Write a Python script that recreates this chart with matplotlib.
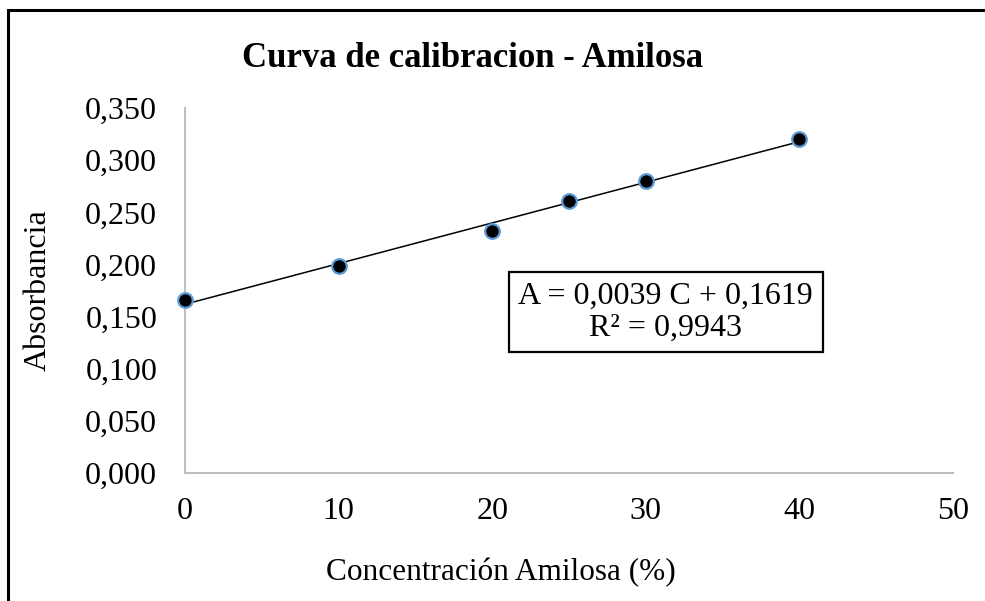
import matplotlib
matplotlib.use('Agg')
import matplotlib.pyplot as plt
from matplotlib.patches import Rectangle
from matplotlib.ticker import FuncFormatter

concentracion = [0, 10, 20, 25, 30, 40]
absorbancia = [0.166, 0.199, 0.232, 0.261, 0.280, 0.320]
pendiente = 0.0039
intercepto = 0.1619
r2 = 0.9943

plt.rcParams['font.family'] = ['Liberation Serif', 'DejaVu Serif']

fig = plt.figure(figsize=(9.85, 6.01), dpi=100)
ax = fig.add_axes([0.1878, 0.213, 0.7797, 0.607])

# trendline
xs = [min(concentracion), max(concentracion)]
ax.plot(xs, [pendiente * x + intercepto for x in xs], color='black', lw=1.1, zorder=2)
ax.plot(concentracion, absorbancia, 'o', ms=10.5, mfc='black', mec='#5b9bd5',
        mew=1.6, zorder=3, clip_on=False)

ax.set_xlim(0, 50)
ax.set_ylim(0, 0.35)
ax.set_xticks(range(0, 51, 10))
ax.set_yticks([i * 0.05 for i in range(8)])
ax.yaxis.set_major_formatter(FuncFormatter(lambda v, p: f"{v:.3f}".replace('.', ',')))
ax.tick_params(length=0, labelsize=23)
ax.tick_params(axis='y', pad=20)
ax.tick_params(axis='x', pad=17)
for s in ['top', 'right']:
    ax.spines[s].set_visible(False)
for s in ['left', 'bottom']:
    ax.spines[s].set_color('#bfbfbf')
    ax.spines[s].set_linewidth(1.5)

fig.text(0.48, 0.902, "Curva de calibracion - Amilosa", ha='center', va='center',
         fontsize=25, fontweight='bold')
fig.text(0.509, 0.048, "Concentración Amilosa (%)", ha='center', va='center', fontsize=22.5)
fig.text(0.039, 0.517, "Absorbancia", ha='center', va='center', fontsize=23, rotation=90)

eq = f"A = {pendiente:.4f} C + {intercepto:.4f}".replace('.', ',')
r2txt = f"R² = {r2:.4f}".replace('.', ',')
ax.text(31.3, 0.1544, eq + "\n" + r2txt, ha='center', va='center', fontsize=23,
        linespacing=1.15,
        bbox=dict(boxstyle='square,pad=0.3', fc='white', ec='black', lw=1.6))

fig.patches.append(Rectangle((8 / 985, -0.01), 1.0, 1 - 10 / 601 + 0.01,
                             transform=fig.transFigure, fill=False, ec='black', lw=2.2))

plt.savefig("out.png", dpi=100)
